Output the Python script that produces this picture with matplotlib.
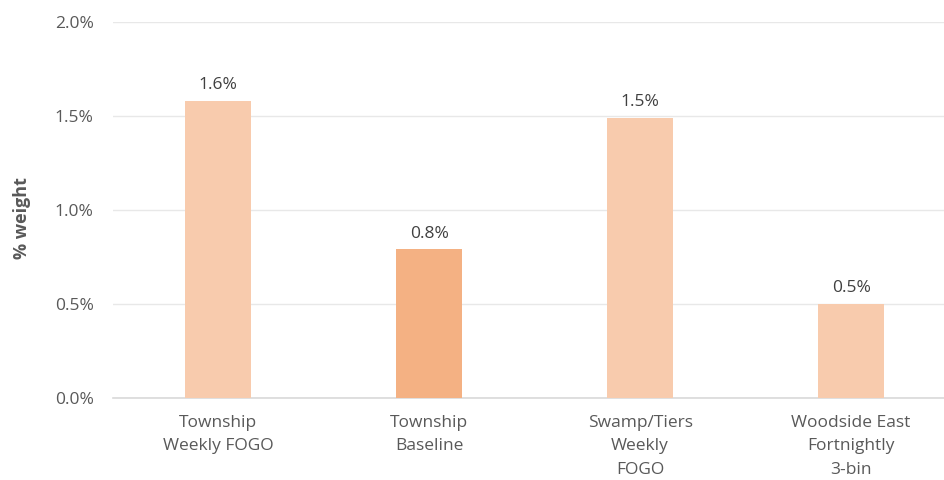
import matplotlib.pyplot as plt
from matplotlib.ticker import FuncFormatter

plt.rcParams['font.family'] = ['Open Sans', 'DejaVu Sans']

categories = ['Township\nWeekly FOGO', 'Township\nBaseline',
              'Swamp/Tiers\nWeekly\nFOGO', 'Woodside East\nFortnightly\n3-bin']
values = [1.58, 0.79, 1.49, 0.50]   # % weight
colors = ['#F8CBAD', '#F4B183', '#F8CBAD', '#F8CBAD']

fig = plt.figure(figsize=(9.44, 4.8), dpi=100)
ax = fig.add_axes([113 / 944, 1 - 398 / 480, (944 - 113) / 944, (398 - 22) / 480])

x = range(len(categories))
bars = ax.bar(x, values, width=0.313, color=colors, zorder=3)

for b, v in zip(bars, values):
    ax.text(b.get_x() + b.get_width() / 2, v + 0.04, f'{v:.1f}%',
            ha='center', va='bottom', fontsize=12.5, color='#404040')

ax.set_xlim(-0.498, 3.44)
ax.set_ylim(0, 2.0)
ax.set_yticks([0, 0.5, 1.0, 1.5, 2.0])
ax.yaxis.set_major_formatter(FuncFormatter(lambda v, p: f'{v:.1f}%'))
ax.set_xticks(list(x))
ax.set_xticklabels(categories, fontsize=12.5, color='#595959', linespacing=1.62)
ax.tick_params(axis='y', labelsize=12.5, labelcolor='#595959', length=0, pad=14)
ax.tick_params(axis='x', length=0, pad=12)

ax.grid(axis='y', color='#E8E8E8', linewidth=1, zorder=0)
for s in ['top', 'right', 'left']:
    ax.spines[s].set_visible(False)
ax.spines['bottom'].set_color('#D9D9D9')
ax.spines['bottom'].set_linewidth(1.2)

ax.set_ylabel('% weight', fontsize=13, fontweight='bold', color='#595959')
ax.yaxis.set_label_coords(-82 / 831, 0.479)

fig.savefig('out.png', dpi=100)
